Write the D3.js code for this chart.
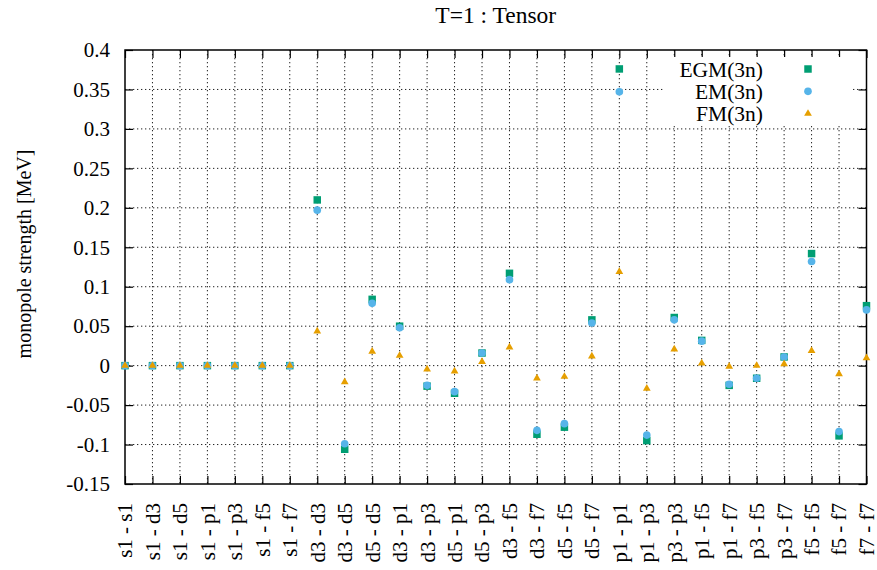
<!DOCTYPE html>
<html>
<head>
<meta charset="utf-8">
<script src="https://cdn.jsdelivr.net/npm/d3@7"></script>
<style>
  body { margin: 0; background: #fff; }
  svg text { font-family: "Liberation Serif", "Times New Roman", serif; fill: #000; }
  .grid line { stroke: #222; stroke-dasharray: 1.3,2.7; stroke-width: 1; }
  .axis path { display: none; }
  .axis line { stroke: #000; stroke-width: 1.2; }
</style>
</head>
<body>
<svg id="chart" width="877" height="570"></svg>
<script>
// categories (orbital pairs) along x
const categories = [
  "s1 - s1", "s1 - d3", "s1 - d5", "s1 - p1", "s1 - p3", "s1 - f5", "s1 - f7",
  "d3 - d3", "d3 - d5", "d5 - d5", "d3 - p1", "d3 - p3", "d5 - p1", "d5 - p3",
  "d3 - f5", "d3 - f7", "d5 - f5", "d5 - f7", "p1 - p1", "p1 - p3", "p3 - p3",
  "p1 - f5", "p1 - f7", "p3 - f5", "p3 - f7", "f5 - f5", "f5 - f7", "f7 - f7"
];

// series values
const egm = [0, 0, 0, 0, 0, 0, 0,
  0.210, -0.106, 0.084, 0.050, -0.026, -0.035, 0.016,
  0.117, -0.087, -0.078, 0.058, 0.376, -0.095, 0.061,
  0.032, -0.025, -0.016, 0.011, 0.142, -0.089, 0.076];
const em = [0, 0, 0, 0, 0, 0, 0,
  0.197, -0.099, 0.079, 0.048, -0.025, -0.033, 0.016,
  0.109, -0.082, -0.0735, 0.054, 0.347, -0.088, 0.058,
  0.031, -0.0236, -0.016, 0.011, 0.132, -0.0836, 0.0706];
const fm = [0, 0, 0, 0, 0, 0, 0,
  0.0436, -0.0206, 0.0178, 0.0127, -0.0046, -0.007, 0.005,
  0.0233, -0.016, -0.0139, 0.012, 0.119, -0.029, 0.0208,
  0.003, -0.001, 0.0, 0.002, 0.019, -0.0105, 0.0098];

const yTicks = [-0.15, -0.1, -0.05, 0, 0.05, 0.1, 0.15, 0.2, 0.25, 0.3, 0.35, 0.4];
const yTickLabels = ["-0.15", "-0.1", "-0.05", "0", "0.05", "0.1", "0.15", "0.2", "0.25", "0.3", "0.35", "0.4"];

const series = [
  {name: "EGM(3n)", values: egm, color: "#009e73", shape: d3.symbolSquare, size: 56},
  {name: "EM(3n)", values: em, color: "#56b4e9", shape: d3.symbolCircle, size: 46},
  {name: "FM(3n)", values: fm, color: "#e69f00", shape: d3.symbolTriangle, size: 26}
];

const plotLeft = 125, plotRight = 866.5, plotTop = 50, plotBottom = 484;

const svg = d3.select("#chart");

let x = d3.scalePoint().domain(categories).range([plotLeft, plotRight]).padding(0);
let y = d3.scaleLinear().domain([-0.15, 0.4]).range([plotBottom, plotTop]);

// grid
let grid = svg.append("g").attr("class", "grid");
grid.selectAll("line.v")
  .data(categories.slice(1, -1))
  .enter().append("line")
  .attr("x1", d => x(d)).attr("x2", d => x(d))
  .attr("y1", plotTop).attr("y2", plotBottom);
grid.selectAll("line.h")
  .data(yTicks.slice(1, -1))
  .enter().append("line")
  .attr("x1", plotLeft).attr("x2", plotRight)
  .attr("y1", d => y(d)).attr("y2", d => y(d));

// axes, ticks pointing inward on all four sides
svg.append("g").attr("class", "axis")
  .attr("transform", `translate(${plotLeft},0)`)
  .call(d3.axisLeft(y).tickValues(yTicks).tickSize(-8).tickPadding(15)
    .tickFormat((d, i) => yTickLabels[i]))
  .selectAll("text").style("font-size", "21px");

svg.append("g").attr("class", "axis")
  .attr("transform", `translate(${plotRight},0)`)
  .call(d3.axisRight(y).tickValues(yTicks).tickSize(-8).tickFormat(""));

let xAxis = svg.append("g").attr("class", "axis")
  .attr("transform", `translate(0,${plotBottom})`)
  .call(d3.axisBottom(x).tickSize(-8));
xAxis.selectAll("text")
  .style("font-size", "21px")
  .attr("transform", "rotate(-90)")
  .attr("text-anchor", "end")
  .attr("x", -19)
  .attr("y", 0)
  .attr("dy", "0.33em");

svg.append("g").attr("class", "axis")
  .attr("transform", `translate(0,${plotTop})`)
  .call(d3.axisTop(x).tickSize(-8).tickFormat(""));

// frame
svg.append("rect")
  .attr("x", plotLeft).attr("y", plotTop)
  .attr("width", plotRight - plotLeft).attr("height", plotBottom - plotTop)
  .attr("fill", "none").attr("stroke", "#000").attr("stroke-width", 1.5);

// points
series.forEach(s => {
  svg.append("g").selectAll("path")
    .data(s.values)
    .enter().append("path")
    .attr("transform", (d, i) => `translate(${x(categories[i])},${y(d)})`)
    .attr("d", d3.symbol().type(s.shape).size(s.size))
    .attr("fill", s.color);
});

// legend (opaque key)
let key = svg.append("g");
key.append("rect")
  .attr("x", 664).attr("y", 57).attr("width", 189).attr("height", 67)
  .attr("fill", "#fff");
series.forEach((s, i) => {
  let ky = 69 + i * 22.3;
  key.append("text")
    .attr("x", 763).attr("y", ky).attr("dy", "0.35em")
    .attr("text-anchor", "end")
    .style("font-size", "21.5px")
    .text(s.name);
  key.append("path")
    .attr("transform", `translate(808,${ky})`)
    .attr("d", d3.symbol().type(s.shape).size(s.size))
    .attr("fill", s.color);
});

// title and axis label
svg.append("text")
  .attr("x", (plotLeft + plotRight) / 2).attr("y", 23)
  .attr("text-anchor", "middle")
  .style("font-size", "23.5px")
  .text("T=1 : Tensor");

svg.append("text")
  .attr("transform", "translate(31,254) rotate(-90)")
  .attr("text-anchor", "middle")
  .style("font-size", "20px")
  .text("monopole strength [MeV]");
</script>
</body>
</html>
